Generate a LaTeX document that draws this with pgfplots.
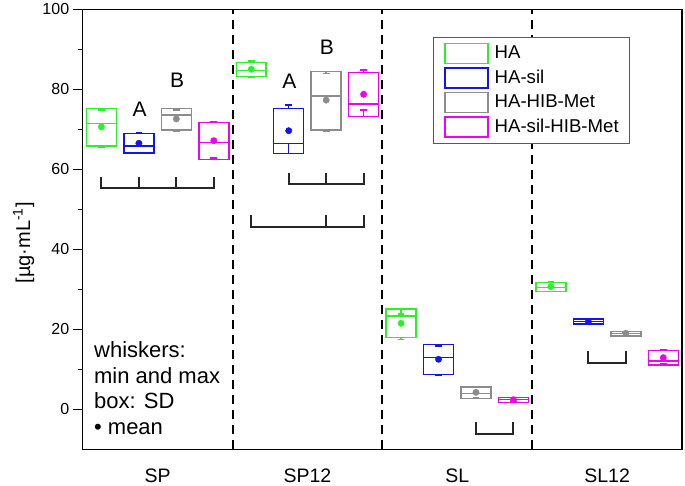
\documentclass[border=0pt]{standalone}
\usepackage{fontspec}
\setmainfont{Liberation Sans}
\usepackage{pgfplots}
\pgfplotsset{compat=1.18}
\usepgfplotslibrary{statistics}

\definecolor{cHA}{RGB}{45,240,45}
\definecolor{cSIL}{RGB}{20,20,230}
\definecolor{cHIB}{RGB}{140,140,140}
\definecolor{cSHM}{RGB}{240,0,240}

\begin{document}
\begin{tikzpicture}[
  bx/.style={line width=1.5bp},
  mn/.style={only marks, mark=*, mark size=3.2bp},
  brk/.style={black!85, line width=2bp},
  sep/.style={black, line width=2bp, dash pattern=on 9bp off 6bp},
  lab/.style={font=\fontsize{21bp}{23bp}\selectfont}
]
\begin{axis}[
  at={(0,0)}, anchor=south west,
  scale only axis, width=599.3bp, height=440bp,
  xmin=0, xmax=4, ymin=-10, ymax=100,
  boxplot/draw direction=y,
  boxplot/box extend=0.2, boxplot/whisker extend=0.045,
  axis line style={line width=1.5bp},
  xtick={0.5,1.5,2.5,3.5},
  xticklabels={SP,SP12,SL,SL12},
  major x tick style={draw=none},
  xticklabel style={font=\fontsize{19.5bp}{22bp}\selectfont, yshift=-6bp},
  ytick={0,20,...,100}, minor y tick num=1,
  ytick pos=left, tick align=outside,
  major tick length=10bp, minor tick length=5bp,
  y tick style={line width=1.5bp, black},
  yticklabel style={font=\fontsize{16bp}{18bp}\selectfont},
  /pgf/number format/assume math mode=true,
  clip=false,
  legend cell align=left,
  legend image code/.code={\draw[#1, line width=1.5bp, fill=white] (0bp,-10bp) rectangle (43bp,10bp);},
  legend style={at={(0.584,0.938)}, anchor=north west, draw=black!65, line width=1bp,
    font=\fontsize{18.6bp}{21bp}\selectfont, row sep=3bp, inner xsep=11bp, inner ysep=5.5bp, fill=white,
    nodes={inner sep=0pt}, /tikz/every odd column/.append style={column sep=6bp}}
]
\addlegendimage{cHA}\addlegendentry{HA}
\addlegendimage{cSIL}\addlegendentry{HA-sil}
\addlegendimage{cHIB}\addlegendentry{HA-HIB-Met}
\addlegendimage{cSHM}\addlegendentry{HA-sil-HIB-Met}

% group separators
\addplot[sep, forget plot] coordinates {(1,-10) (1,100)};
\addplot[sep, forget plot] coordinates {(2,-10) (2,100)};
\addplot[sep, forget plot] coordinates {(3,-10) (3,100)};

% SP
\addplot[bx, cHA, forget plot, boxplot prepared={draw position=0.125, lower whisker=65.5, lower quartile=65.8, median=71.4, upper quartile=75.25, upper whisker=74.8}] coordinates {};
\addplot[bx, cSIL, forget plot, boxplot prepared={draw position=0.375, lower whisker=64.15, lower quartile=64.1, median=65.8, upper quartile=69.0, upper whisker=69.15}] coordinates {};
\addplot[bx, cHIB, forget plot, boxplot prepared={draw position=0.625, lower whisker=69.5, lower quartile=69.8, median=73.6, upper quartile=75.25, upper whisker=74.8}] coordinates {};
\addplot[bx, cSHM, forget plot, boxplot prepared={draw position=0.875, lower whisker=62.8, lower quartile=62.5, median=66.65, upper quartile=71.75, upper whisker=72.0}] coordinates {};
% SP12
\addplot[bx, cHA, forget plot, boxplot prepared={draw position=1.125, lower whisker=82.95, lower quartile=83.15, median=84.65, upper quartile=86.75, upper whisker=87.1}] coordinates {};
\addplot[bx, cSIL, forget plot, boxplot prepared={draw position=1.375, lower whisker=66.4, lower quartile=64.0, median=66.5, upper quartile=75.15, upper whisker=76.1}] coordinates {};
\addplot[bx, cHIB, forget plot, boxplot prepared={draw position=1.625, lower whisker=69.6, lower quartile=69.8, median=78.3, upper quartile=84.4, upper whisker=84.0}] coordinates {};
\addplot[bx, cSHM, forget plot, boxplot prepared={draw position=1.875, lower whisker=74.8, lower quartile=73.15, median=76.3, upper quartile=84.15, upper whisker=84.8}] coordinates {};
% SL
\addplot[bx, cHA, forget plot, boxplot prepared={draw position=2.125, lower whisker=17.5, lower quartile=17.9, median=23.3, upper quartile=25.1, upper whisker=23.8}] coordinates {};
\addplot[bx, cSIL, forget plot, boxplot prepared={draw position=2.375, lower whisker=8.5, lower quartile=8.65, median=12.9, upper quartile=16.25, upper whisker=15.8}] coordinates {};
\addplot[bx, cHIB, forget plot, boxplot prepared={draw position=2.625, lower whisker=2.9, lower quartile=2.65, median=4.0, upper quartile=5.6, upper whisker=5.4}] coordinates {};
\addplot[bx, cSHM, forget plot, boxplot prepared={draw position=2.875, lower whisker=1.9, lower quartile=1.75, median=2.4, upper quartile=3.0, upper whisker=2.9}] coordinates {};
% SL12
\addplot[bx, cHA, forget plot, boxplot prepared={draw position=3.125, lower whisker=29.4, lower quartile=29.5, median=30.5, upper quartile=31.65, upper whisker=31.9}] coordinates {};
\addplot[bx, cSIL, forget plot, boxplot prepared={draw position=3.375, lower whisker=21.4, lower quartile=21.3, median=21.9, upper quartile=22.6, upper whisker=22.5}] coordinates {};
\addplot[bx, cHIB, forget plot, boxplot prepared={draw position=3.625, lower whisker=18.4, lower quartile=18.3, median=18.9, upper quartile=19.4, upper whisker=19.3}] coordinates {};
\addplot[bx, cSHM, forget plot, boxplot prepared={draw position=3.875, lower whisker=11.5, lower quartile=11.1, median=12.1, upper quartile=14.65, upper whisker=14.8}] coordinates {};

% means
\addplot[mn, cHA, forget plot] coordinates {(0.125,70.6) (1.125,85.0) (2.125,21.5) (3.125,30.65)};
\addplot[mn, cSIL, forget plot] coordinates {(0.375,66.5) (1.375,69.65) (2.375,12.5) (3.375,21.9)};
\addplot[mn, cHIB, forget plot] coordinates {(0.625,72.6) (1.625,77.3) (2.625,4.25) (3.625,19.0)};
\addplot[mn, cSHM, forget plot] coordinates {(0.875,67.15) (1.875,78.75) (2.875,2.4) (3.875,12.9)};

% significance brackets
\addplot[brk, forget plot] coordinates {(0.125,58.1) (0.125,55.4) (0.875,55.4) (0.875,58.1)};
\addplot[brk, forget plot] coordinates {(0.375,58.1) (0.375,55.4)};
\addplot[brk, forget plot] coordinates {(0.625,58.1) (0.625,55.4)};
\addplot[brk, forget plot] coordinates {(1.375,59.0) (1.375,56.3) (1.875,56.3) (1.875,59.0)};
\addplot[brk, forget plot] coordinates {(1.625,59.0) (1.625,56.3)};
\addplot[brk, forget plot] coordinates {(1.125,48.5) (1.125,45.6) (1.875,45.6) (1.875,48.5)};
\addplot[brk, forget plot] coordinates {(1.625,48.5) (1.625,45.6)};
\addplot[brk, forget plot] coordinates {(2.625,-3.25) (2.625,-6.25) (2.875,-6.25) (2.875,-3.25)};
\addplot[brk, forget plot] coordinates {(3.375,14.5) (3.375,11.5) (3.625,11.5) (3.625,14.5)};

\node[lab] at (axis cs:0.38,74.9) {A};
\node[lab] at (axis cs:0.63,82.3) {B};
\node[lab] at (axis cs:1.38,82.0) {A};
\node[lab] at (axis cs:1.63,90.6) {B};

\node[anchor=north west, align=left, inner sep=0pt, font=\fontsize{22bp}{25.7bp}\selectfont]
  at (axis cs:0.075,17) {whiskers:\\min and max\\box: SD\\• mean};

\node[rotate=90, font=\fontsize{20bp}{22bp}\selectfont] at (rel axis cs:0,0.469) [yshift=59bp] {[µg·mL\textsuperscript{-1}]};
\end{axis}
\pgfresetboundingbox
\path[use as bounding box] (-82.7bp,-36.7bp) rectangle (602.3bp,449.3bp);
\end{tikzpicture}
\end{document}
